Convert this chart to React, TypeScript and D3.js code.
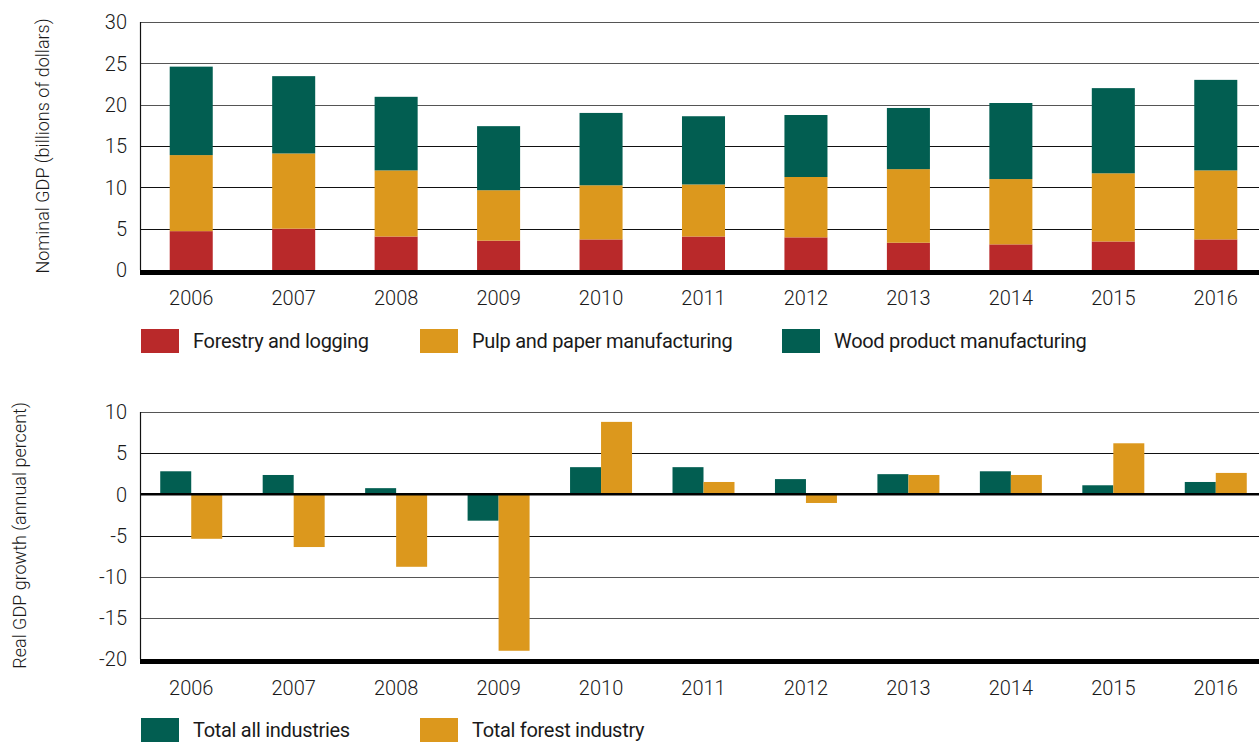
import * as d3 from "d3";
import React, { useEffect, useRef } from "react";

const years = ["2006", "2007", "2008", "2009", "2010", "2011", "2012", "2013", "2014", "2015", "2016"];
// nominal GDP, billions of dollars
const forestry = [4.7, 5.0, 4.05, 3.55, 3.7, 4.05, 3.95, 3.3, 3.1, 3.45, 3.7];
const pulp = [9.2, 9.1, 8.0, 6.1, 6.55, 6.3, 7.3, 8.9, 7.9, 8.25, 8.35];
const wood = [10.7, 9.35, 8.9, 7.75, 8.75, 8.25, 7.5, 7.4, 9.2, 10.3, 10.95];
// real GDP growth, annual percent
const totalAll = [2.8, 2.35, 0.75, -3.2, 3.3, 3.3, 1.85, 2.45, 2.8, 1.1, 1.5];
const totalForest = [-5.4, -6.4, -8.8, -19.0, 8.8, 1.5, -1.05, 2.35, 2.35, 6.2, 2.6];

const topTicks = [0, 5, 10, 15, 20, 25, 30];
const bottomTicks = [-20, -15, -10, -5, 0, 5, 10];

const stackKeys = ["Forestry and logging", "Pulp and paper manufacturing", "Wood product manufacturing"];
const growthKeys = ["Total all industries", "Total forest industry"];

const RED = "#b9292a";
const ORANGE = "#dc981d";
const GREEN = "#025e51";
const FONT = "Roboto, 'Liberation Sans', sans-serif";

export default function App() {
  const svgRef = useRef<SVGSVGElement>(null);

  useEffect(() => {
    const width = 1259;
    const height = 742;
    const left = 140;
    const svg = d3.select(svgRef.current).attr("width", width).attr("height", height);
    svg.selectAll("*").remove();

    const x = d3.scaleBand().domain(years).range([left, 1267]).paddingInner(0.58).paddingOuter(0.29);
    const xg = d3.scaleBand().domain(years).range([left, 1267]).paddingInner(0.395).paddingOuter(0.1975);
    const xs = d3.scaleBand().domain(growthKeys).range([0, xg.bandwidth()]);

    //// top chart
    const yTop = d3.scaleLinear().domain([0, 30]).range([270, 22]);
    const top = svg.append("g");
    top
      .selectAll(".grid")
      .data(topTicks.filter((d) => d !== 0))
      .join("line")
      .attr("x1", left)
      .attr("x2", width)
      .attr("y1", (d) => Math.round(yTop(d)) + 0.5)
      .attr("y2", (d) => Math.round(yTop(d)) + 0.5)
      .attr("stroke", (d) => (d >= 20 ? "#555" : "#111"))
      .attr("stroke-width", 1.2);

    const rows = years.map((y, i) => ({ year: y, f: forestry[i], p: pulp[i], w: wood[i] }));
    const stack = d3.stack<any>().keys(["f", "p", "w"])(rows);
    const colors = [RED, ORANGE, GREEN];
    top
      .selectAll(".layer")
      .data(stack)
      .join("g")
      .attr("fill", (d, i) => colors[i])
      .selectAll("rect")
      .data((d) => d)
      .join("rect")
      .attr("x", (d: any) => x(d.data.year)!)
      .attr("width", x.bandwidth())
      .attr("y", (d) => yTop(d[1]))
      .attr("height", (d) => yTop(d[0]) - yTop(d[1]));

    top.append("rect").attr("x", left).attr("y", yTop(0)).attr("width", width - left).attr("height", 5).attr("fill", "#000");
    top.append("line").attr("x1", left + 0.5).attr("x2", left + 0.5).attr("y1", yTop(30)).attr("y2", yTop(0)).attr("stroke", "#111").attr("stroke-width", 1.2);

    top
      .selectAll(".ytick")
      .data(topTicks)
      .join("text")
      .attr("x", 127)
      .attr("y", (d) => yTop(d))
      .attr("dy", "0.36em")
      .attr("text-anchor", "end")
      .text((d) => d);
    top
      .selectAll(".xtick")
      .data(years)
      .join("text")
      .attr("x", (d) => x(d)! + x.bandwidth() / 2)
      .attr("y", 298)
      .attr("dy", "0.36em")
      .attr("text-anchor", "middle")
      .text((d) => d);
    top
      .append("text")
      .attr("transform", `translate(43,${(yTop(30) + yTop(0)) / 2}) rotate(-90)`)
      .attr("dy", "0.36em")
      .attr("text-anchor", "middle")
      .style("font-size", "18px")
      .text("Nominal GDP (billions of dollars)");

    const legTopX = [141, 420, 782];
    const legTop = top.selectAll(".leg").data(stackKeys).join("g").attr("transform", (d, i) => `translate(${legTopX[i]},329)`);
    legTop.append("rect").attr("width", 38).attr("height", 24).attr("fill", (d, i) => colors[i]);
    legTop.append("text").attr("x", 52).attr("y", 12).attr("dy", "0.36em").style("font-weight", 400).style("letter-spacing", "-0.3px").text((d) => d);

    //// bottom chart
    const yBot = d3.scaleLinear().domain([-20, 10]).range([659, 412]);
    const bot = svg.append("g");
    bot
      .selectAll(".grid")
      .data(bottomTicks.filter((d) => d !== 0 && d !== -20))
      .join("line")
      .attr("x1", left)
      .attr("x2", width)
      .attr("y1", (d) => Math.round(yBot(d)) + 0.5)
      .attr("y2", (d) => Math.round(yBot(d)) + 0.5)
      .attr("stroke", (d) => (d === 5 || d === -5 ? "#111" : "#555"))
      .attr("stroke-width", 1.2);

    const gcolors = [GREEN, ORANGE];
    const gseries = [totalAll, totalForest];
    bot
      .selectAll(".gl")
      .data(gseries)
      .join("g")
      .attr("fill", (d, i) => gcolors[i])
      .each(function (vals, si) {
        d3.select(this)
          .selectAll("rect")
          .data(vals)
          .join("rect")
          .attr("x", (v, i) => xg(years[i])! + xs(growthKeys[si])!)
          .attr("width", xs.bandwidth())
          .attr("y", (v) => yBot(Math.max(0, v)))
          .attr("height", (v) => Math.abs(yBot(v) - yBot(0)));
      });

    bot.append("line").attr("x1", left).attr("x2", width).attr("y1", yBot(0)).attr("y2", yBot(0)).attr("stroke", "#000").attr("stroke-width", 2.5);
    bot.append("rect").attr("x", left).attr("y", yBot(-20)).attr("width", width - left).attr("height", 5).attr("fill", "#000");
    bot.append("line").attr("x1", left + 0.5).attr("x2", left + 0.5).attr("y1", yBot(10)).attr("y2", yBot(-20)).attr("stroke", "#111").attr("stroke-width", 1.2);

    bot
      .selectAll(".ytick")
      .data(bottomTicks)
      .join("text")
      .attr("x", 127)
      .attr("y", (d) => yBot(d))
      .attr("dy", "0.36em")
      .attr("text-anchor", "end")
      .text((d) => d);
    bot
      .selectAll(".xtick")
      .data(years)
      .join("text")
      .attr("x", (d) => xg(d)! + xg.bandwidth() / 2)
      .attr("y", 688)
      .attr("dy", "0.36em")
      .attr("text-anchor", "middle")
      .text((d) => d);
    bot
      .append("text")
      .attr("transform", `translate(20,${(yBot(10) + yBot(-20)) / 2}) rotate(-90)`)
      .attr("dy", "0.36em")
      .attr("text-anchor", "middle")
      .style("font-size", "18px")
      .text("Real GDP growth (annual percent)");

    const legBotX = [141, 420];
    const legBot = bot.selectAll(".leg").data(growthKeys).join("g").attr("transform", (d, i) => `translate(${legBotX[i]},718)`);
    legBot.append("rect").attr("width", 38).attr("height", 24).attr("fill", (d, i) => gcolors[i]);
    legBot.append("text").attr("x", 52).attr("y", 12).attr("dy", "0.36em").style("font-weight", 400).style("letter-spacing", "-0.3px").text((d) => d);

    svg.selectAll("text").attr("fill", "#1a1a1a").style("font-family", FONT);
    svg.selectAll("text:not([style*='font-weight'])").style("font-weight", 300);
    svg.selectAll("text").filter(function () {
      return !(this as SVGTextElement).style.fontSize;
    }).style("font-size", "20px");
  }, []);

  return <svg ref={svgRef} style={{ position: "absolute", left: 0, top: 0, background: "#fff" }}></svg>;
}
